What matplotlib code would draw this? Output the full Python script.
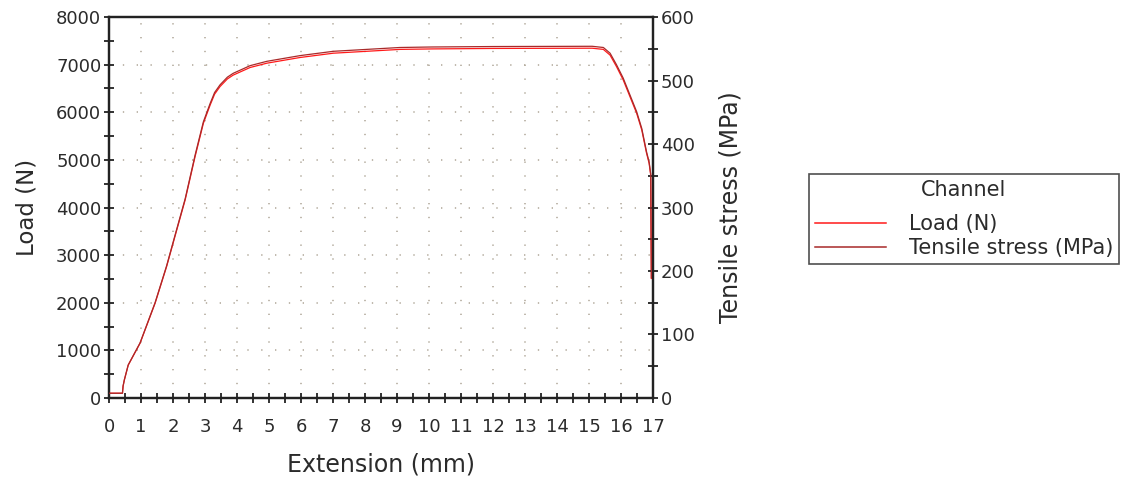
import numpy as np
import matplotlib
matplotlib.use("Agg")
import matplotlib.pyplot as plt
from matplotlib.ticker import MultipleLocator
from matplotlib.lines import Line2D

# values
extension = [0.0, 0.42, 0.44, 0.48, 0.60, 0.97, 1.44, 1.80, 2.06, 2.38, 2.69, 2.95,
             3.16, 3.30, 3.47, 3.70, 3.88, 4.41, 4.93, 5.97, 7.01, 8.05, 9.09, 10.1,
             12.0, 15.1, 15.45, 15.66, 15.86, 16.07, 16.28, 16.49, 16.65, 16.80,
             16.88, 16.93, 16.95]
load_n = [100, 100, 250, 380, 690, 1150, 1990, 2760, 3390, 4160, 5070, 5770,
          6150, 6380, 6540, 6700, 6780, 6940, 7030, 7150, 7240, 7280, 7320, 7330,
          7340, 7345, 7320, 7200, 6960, 6680, 6330, 5980, 5630, 5140,
          4930, 4680, 2510]
stress_mpa = [7.5, 7.5, 18.9, 28.7, 52.0, 86.7, 150.1, 208.1, 255.7, 313.7, 382.4, 435.1,
              463.8, 481.1, 493.2, 505.3, 511.3, 523.4, 530.2, 539.2, 546.0, 549.0, 552.0, 552.8,
              553.5, 553.9, 552.0, 543.0, 524.9, 503.8, 477.4, 451.0, 424.6, 387.6,
              371.8, 352.9, 189.3]

x_ticks = list(range(0, 18))
load_ticks = list(range(0, 8001, 1000))
stress_ticks = list(range(0, 601, 100))

load_color = "#ff1a1a"
stress_color = "#a82a2a"
grid_color = "#b5ad9f"
text_color = "#2b2b2b"
fs = 13

plt.rcParams['font.family'] = ['DejaVu Sans']

fig = plt.figure(figsize=(11.25, 4.82), dpi=100)
ax = fig.add_axes([0.0969, 0.1743, 0.4835, 0.7904])
ax2 = ax.twinx()

ax.plot(extension, load_n, color=load_color, lw=0.9, zorder=3)
ax2.plot(extension, stress_mpa, color=stress_color, lw=0.9, zorder=3)

ax.set_xlim(0, 17)
ax.set_ylim(0, 8000)
ax2.set_ylim(0, 600)

ax.set_xticks(x_ticks)
ax.set_yticks(load_ticks)
ax2.set_yticks(stress_ticks)
ax.xaxis.set_minor_locator(MultipleLocator(0.5))
ax.yaxis.set_minor_locator(MultipleLocator(500))
ax2.yaxis.set_minor_locator(MultipleLocator(50))

for a in (ax, ax2):
    a.tick_params(which='both', direction='inout', length=7, width=1.3,
                  color='#222222', labelsize=fs, labelcolor=text_color, pad=2)
    for s in a.spines.values():
        s.set_linewidth(1.6)
        s.set_color('#222222')
ax.tick_params(axis='x', which='both', pad=11)

ax.grid(True, which='major', color=grid_color, linestyle=(0, (0.8, 7.5)), lw=1.2)

ax.set_xlabel("Extension (mm)", fontsize=17, color=text_color, labelpad=12)
ax.set_ylabel("Load (N)", fontsize=16.5, color=text_color, labelpad=13)
ax2.set_ylabel("Tensile stress (MPa)", fontsize=17, color=text_color, labelpad=17)

handles = [Line2D([], [], color=load_color, lw=1.1),
           Line2D([], [], color=stress_color, lw=1.1)]
leg = fig.legend(handles, ["Load (N)", "Tensile stress (MPa)"], title="Channel",
                 loc='center', bbox_to_anchor=(964 / 1125, 1 - 219 / 482),
                 fontsize=15, title_fontsize=15, frameon=True, fancybox=False,
                 handlelength=3.4, handletextpad=1.1, labelspacing=0.2,
                 borderpad=0.3, borderaxespad=0)
leg._legend_box.sep = 10
leg.get_frame().set_edgecolor('#222222')
leg.get_frame().set_linewidth(1.2)
for t in leg.get_texts() + [leg.get_title()]:
    t.set_color(text_color)

fig.savefig("out.png", dpi=100)
